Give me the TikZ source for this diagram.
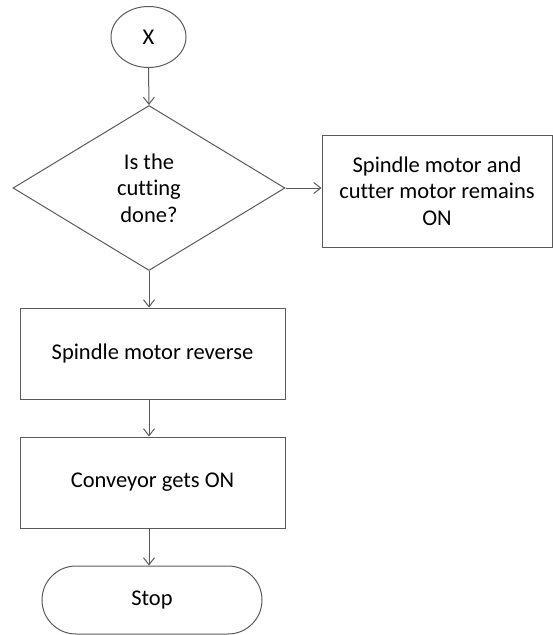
\documentclass[tikz,border=0pt]{standalone}
\usepackage{fontspec}
\setmainfont{Carlito}[Ligatures=NoCommon]
\usetikzlibrary{shapes.geometric,arrows.meta}
\definecolor{edge}{HTML}{5A5A5A}
\begin{document}
\begin{tikzpicture}[x=1pt,y=-1pt,
  every node/.style={font=\fontsize{22.5}{26.5}\selectfont, text=black, align=center, inner sep=0pt},
  frame/.style={draw=edge, line width=1pt},
  link/.style={draw=edge, line width=1pt, -{Straight Barb[length=7pt,width=11pt,line width=1pt]}}]
\useasboundingbox (0,0) rectangle (553,635);
\node[frame, ellipse, minimum width=75pt, minimum height=61pt] (x) at (148.5,37) {X};
\node[frame, diamond, minimum width=272pt, minimum height=165pt, aspect=1.65] (d) at (149,188) {Is the\\cutting\\done?};
\node[frame, rectangle, minimum width=230pt, minimum height=112pt] (r) at (437,191) {Spindle motor and\\cutter motor remains\\ON};
\node[frame, rectangle, minimum width=265pt, minimum height=91pt] (b1) at (152.5,353.5) {Spindle motor reverse};
\node[frame, rectangle, minimum width=265pt, minimum height=91pt] (b2) at (152.5,482.5) {Conveyor gets ON};
\node[frame, rectangle, rounded corners=34pt, minimum width=220pt, minimum height=68pt] (s) at (152,600) {Stop};
\draw[link] (x.south) -- (d.north);
\draw[link] (d.east) -- (d.east -| r.west);
\draw[link] (d.south) -- (d.south |- b1.north);
\draw[link] (b1.south -| d.south) -- (d.south |- b2.north);
\draw[link] (b2.south -| d.south) -- (d.south |- s.north);
\end{tikzpicture}
\end{document}
